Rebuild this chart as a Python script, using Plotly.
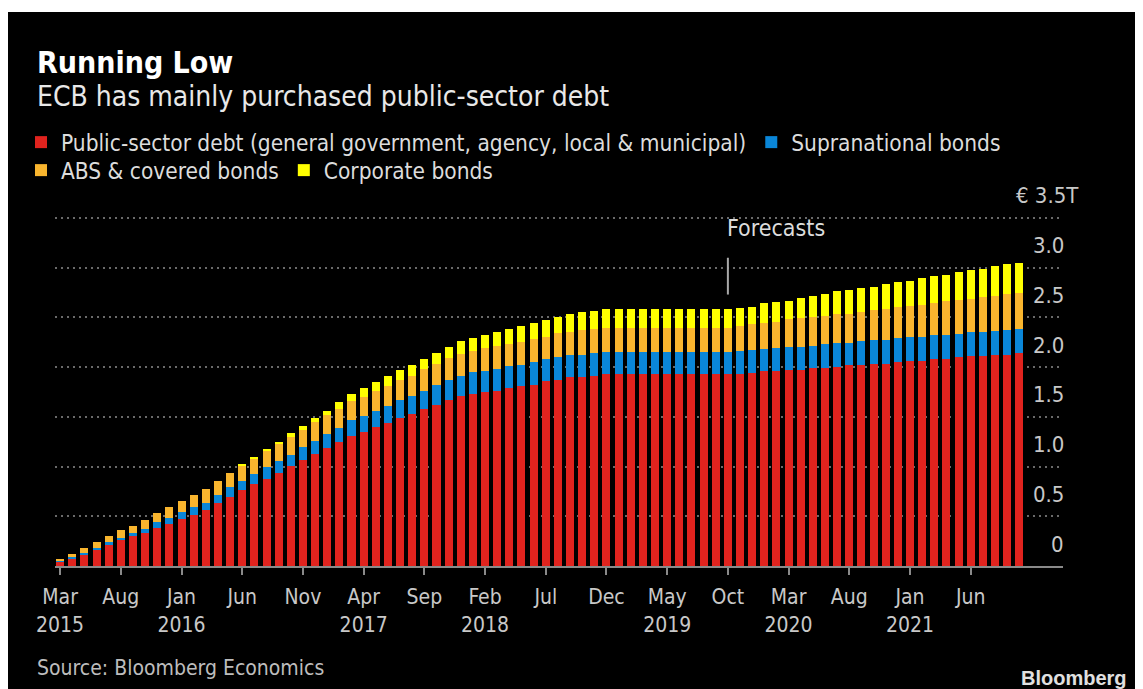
import plotly.graph_objects as go

# ---------------- data (trillions of euro, monthly cumulative holdings) ----------------
month_names = ["Jan", "Feb", "Mar", "Apr", "May", "Jun", "Jul", "Aug", "Sep", "Oct", "Nov", "Dec"]
months = []
for i in range(80):  # Mar 2015 .. Oct 2021
    k = 2 + i
    months.append(f"{month_names[k % 12]} {2015 + k // 12}")

public_sector = [
    0.050, 0.073, 0.120, 0.167, 0.210, 0.257, 0.300, 0.333, 0.380, 0.427,
    0.470, 0.517, 0.560, 0.637, 0.697, 0.760, 0.823, 0.880, 0.940, 1.003,
    1.063, 1.123, 1.183, 1.243, 1.303, 1.350, 1.397, 1.440, 1.487, 1.533,
    1.580, 1.623, 1.670, 1.713, 1.730, 1.747, 1.763, 1.790, 1.807, 1.823,
    1.857, 1.870, 1.897, 1.897, 1.913, 1.927, 1.927, 1.927, 1.927, 1.927,
    1.927, 1.927, 1.927, 1.927, 1.927, 1.927, 1.927, 1.943, 1.957, 1.963,
    1.970, 1.970, 1.987, 1.987, 2.003, 2.020, 2.020, 2.033, 2.033, 2.050,
    2.063, 2.063, 2.080, 2.080, 2.097, 2.110, 2.110, 2.127, 2.127, 2.140,
]
supranational = [
    0.002, 0.017, 0.013, 0.013, 0.030, 0.023, 0.030, 0.040, 0.060, 0.057,
    0.073, 0.073, 0.077, 0.077, 0.093, 0.090, 0.100, 0.120, 0.117, 0.117,
    0.134, 0.134, 0.147, 0.147, 0.167, 0.163, 0.166, 0.167, 0.180, 0.180,
    0.183, 0.200, 0.197, 0.200, 0.217, 0.216, 0.217, 0.217, 0.216, 0.227,
    0.220, 0.227, 0.230, 0.230, 0.227, 0.226, 0.226, 0.226, 0.226, 0.226,
    0.226, 0.226, 0.226, 0.226, 0.226, 0.226, 0.233, 0.227, 0.223, 0.227,
    0.233, 0.235, 0.230, 0.243, 0.244, 0.227, 0.240, 0.240, 0.240, 0.240,
    0.244, 0.244, 0.240, 0.245, 0.240, 0.240, 0.240, 0.240, 0.245, 0.240,
]
abs_covered = [
    0.011, 0.030, 0.047, 0.060, 0.060, 0.083, 0.077, 0.094, 0.090, 0.106,
    0.107, 0.123, 0.136, 0.136, 0.150, 0.157, 0.160, 0.163, 0.176, 0.177,
    0.170, 0.193, 0.193, 0.193, 0.187, 0.187, 0.200, 0.200, 0.203, 0.200,
    0.217, 0.207, 0.220, 0.217, 0.216, 0.227, 0.230, 0.230, 0.230, 0.230,
    0.230, 0.243, 0.230, 0.243, 0.243, 0.244, 0.244, 0.244, 0.244, 0.244,
    0.244, 0.244, 0.244, 0.244, 0.244, 0.244, 0.253, 0.260, 0.267, 0.267,
    0.277, 0.285, 0.290, 0.287, 0.290, 0.290, 0.290, 0.297, 0.310, 0.310,
    0.306, 0.320, 0.327, 0.338, 0.340, 0.340, 0.357, 0.353, 0.365, 0.370,
]
corporate = [
    0.000, 0.000, 0.000, 0.000, 0.000, 0.000, 0.000, 0.000, 0.000, 0.000,
    0.000, 0.000, 0.000, 0.000, 0.000, 0.013, 0.014, 0.014, 0.017, 0.036,
    0.043, 0.040, 0.040, 0.070, 0.073, 0.090, 0.087, 0.106, 0.103, 0.104,
    0.100, 0.110, 0.113, 0.133, 0.127, 0.130, 0.143, 0.146, 0.160, 0.160,
    0.166, 0.163, 0.173, 0.180, 0.177, 0.183, 0.183, 0.183, 0.183, 0.183,
    0.183, 0.183, 0.183, 0.183, 0.183, 0.183, 0.180, 0.177, 0.193, 0.200,
    0.190, 0.210, 0.213, 0.216, 0.230, 0.243, 0.243, 0.240, 0.254, 0.257,
    0.257, 0.273, 0.270, 0.267, 0.283, 0.283, 0.283, 0.300, 0.300, 0.300,
]

series_names = [
    "Public-sector debt (general government, agency, local & municipal)",
    "Supranational bonds",
    "ABS & covered bonds",
    "Corporate bonds",
]
series_colors = ["#e0231e", "#0a86d8", "#f9b52e", "#ffff00"]
series_legend = ["legend", "legend", "legend2", "legend2"]

tick_months = months[0::5]
tick_text = ["Mar<br>2015", "Aug", "Jan<br>2016", "Jun", "Nov", "Apr<br>2017", "Sep",
             "Feb<br>2018", "Jul", "Dec", "May<br>2019", "Oct", "Mar<br>2020", "Aug",
             "Jan<br>2021", "Jun"]
y_ticks = [0, 0.5, 1.0, 1.5, 2.0, 2.5, 3.0, 3.5]
y_tick_text = ["0", "0.5", "1.0", "1.5", "2.0", "2.5", "3.0", "€ 3.5T"]
forecast_start = "Oct 2019"

# ---------------- layout geometry (figure pixels; page adds an 8px body margin) ----------------
W, H = 1135, 681
ML, MR, MT, MB = 47, 80, 205, 123
PW, PH = W - ML - MR, H - MT - MB
FONT = "DejaVu Sans Condensed, DejaVu Sans, sans-serif"


def px(xp):
    return (xp - ML) / PW


def py(yp):
    return (H - MB - yp) / PH


fig = go.Figure()
for name, vals, col, lg in zip(series_names, [public_sector, supranational, abs_covered, corporate],
                               series_colors, series_legend):
    fig.add_trace(go.Bar(x=months, y=vals, name=name, legend=lg,
                         marker=dict(color=col, line=dict(width=0)), hoverinfo="skip"))

legend_common = dict(orientation="h", xanchor="left", yanchor="top",
                     font=dict(size=22.5, color="#dcdcdc", family=FONT), bgcolor="rgba(0,0,0,0)",
                     traceorder="normal", itemclick=False, itemdoubleclick=False)

fig.update_layout(
    width=W, height=H,
    barmode="stack", bargap=0.34,
    paper_bgcolor="white", plot_bgcolor="black",
    margin=dict(l=ML, r=MR, t=MT, b=MB),
    font=dict(family=FONT, color="#d0d0d0"),
    showlegend=True,
    legend=dict(x=px(13), y=py(113), **legend_common),
    legend2=dict(x=px(13), y=py(141), **legend_common),
    xaxis=dict(type="category", range=[-0.42, 82.6], tickmode="array", tickvals=tick_months,
               ticktext=tick_text, ticks="outside", ticklen=7, tickwidth=2, tickcolor="#8a8a8a",
               showline=True, linecolor="#8a8a8a", linewidth=2, showgrid=False, zeroline=False,
               tickfont=dict(size=21, color="#c8c8c8", family=FONT), ticklabelstandoff=4,
               tickangle=0),
    yaxis=dict(range=[0, 3.55], tickmode="array", tickvals=y_ticks[1:], showticklabels=False,
               showgrid=True, gridcolor="#6a6a6a", gridwidth=2, griddash="2px,4px",
               zeroline=False, showline=False),
)

# black panel (reference shows a thin white border at the top)
fig.add_shape(type="rect", xref="paper", yref="paper", x0=px(0), x1=px(W + 10), y0=py(H + 10), y1=py(4),
              fillcolor="black", line=dict(width=0), layer="below")

# y labels sitting above gridlines on the right
for v, t in zip(y_ticks, y_tick_text):
    xr = px(1073) if v == 3.5 else px(1058)
    fig.add_annotation(x=xr, xref="paper", y=v, yref="y", text=t, showarrow=False,
                       xanchor="right", yanchor="middle", yshift=22,
                       font=dict(size=22, color="#c8c8c8", family=FONT))

# forecasts marker
fi = months.index(forecast_start)
fig.add_shape(type="line", xref="x", yref="y", x0=fi, x1=fi, y0=2.73, y1=3.10,
              line=dict(color="#a8a8a8", width=2))
fig.add_annotation(x=fi, xref="x", y=3.40, yref="y", text="Forecasts", showarrow=False,
                   xanchor="left", yanchor="middle", xshift=-3,
                   font=dict(size=23, color="#dcdcdc", family=FONT))

# titles and footer
fig.add_annotation(x=px(27), xref="paper", y=py(54), yref="paper", text="<b>Running Low</b>",
                   showarrow=False, xanchor="left", yanchor="middle",
                   font=dict(size=30, color="white", family=FONT))
fig.add_annotation(x=px(27), xref="paper", y=py(88), yref="paper",
                   text="ECB has mainly purchased public-sector debt",
                   showarrow=False, xanchor="left", yanchor="middle",
                   font=dict(size=28, color="#e8e8e8", family=FONT))
fig.add_annotation(x=px(27), xref="paper", y=py(660), yref="paper", text="Source: Bloomberg Economics",
                   showarrow=False, xanchor="left", yanchor="middle",
                   font=dict(size=21, color="#bdbdbd", family=FONT))
fig.add_annotation(x=px(1121), xref="paper", y=py(670), yref="paper", text="<b>Bloomberg</b>",
                   showarrow=False, xanchor="right", yanchor="middle",
                   font=dict(size=20, color="#e0e0e0", family="Liberation Sans, Arial, sans-serif"))

fig.write_html("out.html", config={"displayModeBar": False})
